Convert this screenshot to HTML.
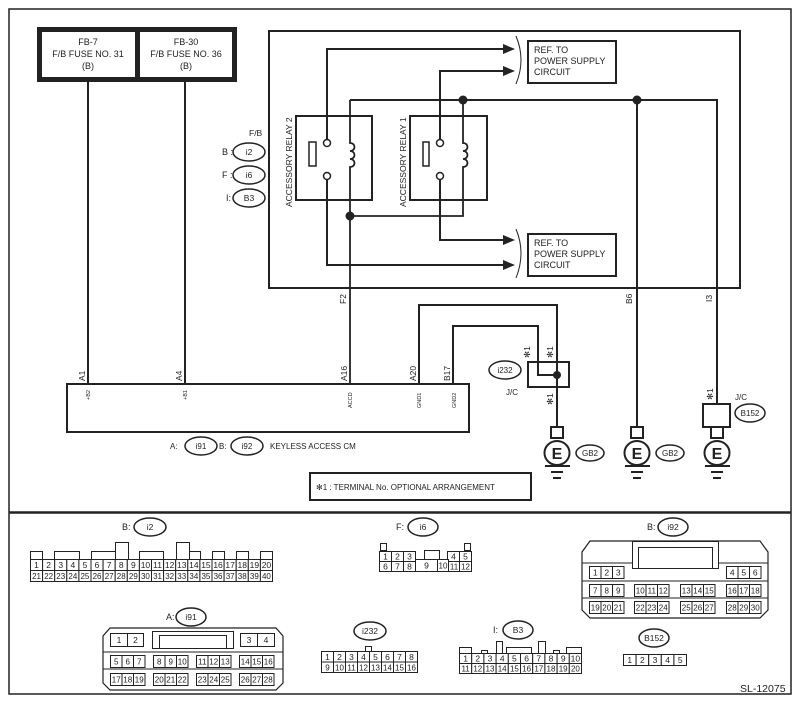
<!DOCTYPE html>
<html><head><meta charset="utf-8"><style>
html,body{margin:0;padding:0;background:#fff;}
svg{display:block;font-family:"Liberation Sans",sans-serif;}
</style></head><body>
<svg id="s" width="802" height="704" viewBox="0 0 802 704" xmlns="http://www.w3.org/2000/svg">
<rect x="0" y="0" width="802" height="704" fill="#fff"/>
<rect x="9" y="9" width="782" height="685" fill="none" stroke="#222" stroke-width="1.5"/>
<line x1="9" y1="512.5" x2="791" y2="512.5" stroke="#222" stroke-width="2.5"/>

<g fill="none" stroke="#222" stroke-width="2">
<rect x="39.5" y="29.5" width="195" height="50" stroke-width="5"/>
<line x1="137.5" y1="29" x2="137.5" y2="80" stroke-width="5"/>
<line x1="88" y1="82" x2="88" y2="384"/>
<line x1="185" y1="82" x2="185" y2="384"/>
<rect x="269" y="31" width="471" height="257"/>
<rect x="296" y="116" width="76" height="84"/>
<rect x="410" y="116" width="77" height="84"/>
<rect x="309" y="142" width="7" height="24" stroke-width="1.5"/>
<rect x="423" y="142" width="6" height="24" stroke-width="1.5"/>
<circle cx="327" cy="143" r="3.5" fill="#fff" stroke-width="1.5"/>
<circle cx="327" cy="176" r="3.5" fill="#fff" stroke-width="1.5"/>
<circle cx="440" cy="143" r="3.5" fill="#fff" stroke-width="1.5"/>
<circle cx="440" cy="176" r="3.5" fill="#fff" stroke-width="1.5"/>
<path d="M350 100 V143 c6 0 6 8 0 8 c6 0 6 8 0 8 c6 0 6 8 0 8 V384" stroke-width="1.8"/>
<path d="M463 100 V143 c6 0 6 8 0 8 c6 0 6 8 0 8 c6 0 6 8 0 8 V216 H350" stroke-width="1.8"/>
<path d="M327 139.5 V49 H505"/>
<path d="M440 139.5 V71 H505"/>
<path d="M327 179.5 V265 H505"/>
<path d="M440 179.5 V240 H505"/>
<path d="M350 100 H717 V404"/>
<line x1="637" y1="100" x2="637" y2="427"/>
<path d="M516 36 Q526 60 516 84" stroke-width="1"/>
<path d="M516 229 Q526 253 516 278" stroke-width="1"/>
<rect x="528" y="41" width="88" height="42"/>
<rect x="528" y="234" width="88" height="42"/>
<rect x="67" y="384" width="402" height="48"/>
<path d="M419 384 V305 H557 V427"/>
<path d="M453 384 V326 H538 V375 H557"/>
<rect x="528" y="362" width="41" height="25"/>
<rect x="703" y="404" width="27" height="23"/>
<rect x="551" y="427" width="12" height="11"/>
<rect x="631" y="427" width="12" height="11"/>
<rect x="711" y="427" width="12" height="11"/>
<rect x="310" y="473" width="221" height="27"/>
</g>
<g fill="#222">
<polygon points="503,44 515,49 503,54"/>
<polygon points="503,66 515,71 503,76"/>
<polygon points="503,235 515,240 503,245"/>
<polygon points="503,260 515,265 503,270"/>
<circle cx="463" cy="100" r="4.5"/><circle cx="637" cy="100" r="4.5"/>
<circle cx="350" cy="216" r="4.5"/><circle cx="557" cy="375" r="4"/>
</g>
<g id="gnds"></g>

<g font-size="9" fill="#222" text-anchor="middle">
<text x="88" y="45">FB-7</text><text x="88" y="57">F/B FUSE NO. 31</text><text x="88" y="69">(B)</text>
<text x="186" y="45">FB-30</text><text x="186" y="57">F/B FUSE NO. 36</text><text x="186" y="69">(B)</text>
</g>
<g font-size="9" fill="#222">
<text x="534" y="53">REF. TO</text><text x="534" y="64">POWER SUPPLY</text><text x="534" y="75">CIRCUIT</text>
<text x="534" y="246">REF. TO</text><text x="534" y="257">POWER SUPPLY</text><text x="534" y="268">CIRCUIT</text>
<text x="249" y="136" font-size="8.5">F/B</text>
<text x="222" y="155" font-size="9">B :</text><text x="222" y="178" font-size="9">F :</text><text x="226" y="201" font-size="9">I:</text>
<text transform="translate(292,207) rotate(-90)" font-size="8.5">ACCESSORY RELAY 2</text>
<text transform="translate(406,207) rotate(-90)" font-size="8.5">ACCESSORY RELAY 1</text>
<text transform="translate(346,304) rotate(-90)" font-size="8.5">F2</text>
<text transform="translate(632,304) rotate(-90)" font-size="8.5">B6</text>
<text transform="translate(712,302) rotate(-90)" font-size="8.5">I3</text>
<text transform="translate(85,381) rotate(-90)" font-size="8.5">A1</text>
<text transform="translate(182,381) rotate(-90)" font-size="8.5">A4</text>
<text transform="translate(347,381) rotate(-90)" font-size="8.5">A16</text>
<text transform="translate(416,381) rotate(-90)" font-size="8.5">A20</text>
<text transform="translate(450,381) rotate(-90)" font-size="8.5">B17</text>
<text transform="translate(90,400) rotate(-90)" font-size="5.5">+B2</text>
<text transform="translate(187,400) rotate(-90)" font-size="5.5">+B1</text>
<text transform="translate(352,408) rotate(-90)" font-size="5.5">ACCD</text>
<text transform="translate(421,408) rotate(-90)" font-size="5.5">GND1</text>
<text transform="translate(456,408) rotate(-90)" font-size="5.5">GND2</text>
<text transform="translate(530,358) rotate(-90)" font-size="8.5">✻1</text>
<text transform="translate(553,358) rotate(-90)" font-size="8.5">✻1</text>
<text transform="translate(553,405) rotate(-90)" font-size="8.5">✻1</text>
<text transform="translate(713,400) rotate(-90)" font-size="8.5">✻1</text>
<text x="506" y="395" font-size="8">J/C</text>
<text x="735" y="400" font-size="8">J/C</text>
<text x="170" y="449" font-size="8">A:</text><text x="219" y="449" font-size="8">B:</text>
<text x="270" y="449" font-size="8">KEYLESS ACCESS CM</text>
<text x="316" y="490" font-size="8">✻1  : TERMINAL No. OPTIONAL ARRANGEMENT</text>
<text x="740" y="692" font-size="10.5">SL-12075</text>
<text x="122" y="530" font-size="9">B:</text>
<text x="396" y="530" font-size="9">F:</text>
<text x="647" y="530" font-size="9">B:</text>
<text x="166" y="620" font-size="9">A:</text>
<text x="493" y="633" font-size="9">I:</text>
</g>
<g id="ovals" fill="none" stroke="#222" stroke-width="1.5"></g>
<g id="conns"></g>
<script>
var NS="http://www.w3.org/2000/svg";
function el(p,t,a,txt){var e=document.createElementNS(NS,t);for(var k in a)e.setAttribute(k,a[k]);if(txt!==undefined)e.textContent=txt;p.appendChild(e);return e;}
var S=document.getElementById('s');
var ov=document.getElementById('ovals');
function oval(cx,cy,rx,ry,t,fs){el(ov,'ellipse',{cx:cx,cy:cy,rx:rx,ry:ry,fill:'#fff'});el(S,'text',{x:cx,y:cy+3,'font-size':fs||8.5,'text-anchor':'middle',fill:'#222'},t);}
oval(249,152,16,9,'i2');oval(249,175,16,9,'i6');oval(249,198,16,9,'B3');
oval(505,370,16,9,'i232',8);oval(750,413,15,9,'B152',8);
oval(590,453,14,8,'GB2',8);oval(670,453,14,8,'GB2',8);
oval(201,446,16,9,'i91',8);oval(247,446,16,9,'i92',8);
oval(150,527,16,9,'i2');oval(423,527,15,9,'i6');oval(673,527,15,9,'i92');
oval(191,617,15,9,'i91');oval(370,631,16,9,'i232');oval(518,630,15,9,'B3');oval(654,638,15,9,'B152');
var g=document.getElementById('gnds');
[557,637,717].forEach(function(x){
 el(g,'ellipse',{cx:x,cy:453,rx:12.5,ry:12,fill:'#fff',stroke:'#222','stroke-width':2});
 el(g,'text',{x:x,y:459,'font-size':16,'font-weight':'bold','text-anchor':'middle',fill:'#222'},'E');
 el(g,'line',{x1:x-12,y1:466,x2:x+13,y2:466,stroke:'#222','stroke-width':2});
 el(g,'line',{x1:x-6,y1:472,x2:x+6,y2:472,stroke:'#222','stroke-width':2});
 el(g,'line',{x1:x-4,y1:478,x2:x+4,y2:478,stroke:'#222','stroke-width':2});
});
var C=document.getElementById('conns');
function cell(x,y,w,h,t,fs){el(C,'rect',{x:x+.5,y:y+.5,width:w,height:h,fill:'#fff',stroke:'#222','stroke-width':1});if(t!==undefined&&t!=='')el(C,'text',{x:x+w/2+.5,y:y+h/2+3.5,'font-size':fs||8.5,'text-anchor':'middle',fill:'#222'},t);}
function row(x0,y,w,h,a,b,fs){for(var i=a;i<=b;i++)cell(x0+(i-a)*w,y,w,h,String(i),fs);}
[[30,42,551],[54,79,551],[91,115,551],[115,128,542],[139,163,551],[176,189,542],[189,200,551],[212,224,551],[236,248,551],[260,272,551]].forEach(function(b){cell(b[0],b[2],b[1]-b[0],559-b[2]);});
row(30,559,12.1,11,1,20,8.5);row(30,570,12.1,11,21,40,8);
cell(380,543,6,7);cell(464,543,6,7);cell(424,550,15,9);
row(379,551,12,10,1,3);row(447,551,12,10,4,5);
row(379,561,12,10,6,8);cell(415,559,22,12,'9');cell(437,559,11,12,'10',8);cell(448,561,11,10,'11',8);cell(459,561,12,10,'12',8);
el(C,'path',{d:'M110 628 H276 L283 636 V683 L276 690 H110 L103 683 V636 Z',fill:'#fff',stroke:'#222','stroke-width':1.2});
el(C,'line',{x1:103,y1:652,x2:283,y2:652,stroke:'#222'});el(C,'line',{x1:103,y1:669,x2:283,y2:669,stroke:'#222'});
cell(110,633,17,13,'1');cell(127,633,16,13,'2');cell(240,633,17,13,'3');cell(257,633,17,13,'4');
cell(152,631,81,17);cell(159,635,67,13);
[[110,5],[153,8],[196,11],[239,14]].forEach(function(r){row(r[0],655,11.5,12,r[1],r[1]+2,8);row(r[0],673,11.5,12,r[1]+12,r[1]+14,8);});
el(C,'path',{d:'M590 541 H760 L768 552 V610 L760 618 H590 L582 610 V552 Z',fill:'#fff',stroke:'#222','stroke-width':1.2});
el(C,'line',{x1:582,y1:563,x2:768,y2:563,stroke:'#222'});el(C,'line',{x1:582,y1:581,x2:768,y2:581,stroke:'#222'});el(C,'line',{x1:582,y1:598,x2:768,y2:598,stroke:'#222'});
cell(632,541,86,27);cell(638,547,74,21);
row(589,566,11.5,12,1,3);row(726,566,11.5,12,4,6);
[[589,7],[634,10],[680,13],[726,16]].forEach(function(r){row(r[0],584,11.5,12,r[1],r[1]+2,8);row(r[0],601,11.5,12,r[1]+12,r[1]+14,8);});
cell(365,646,6,5);row(321,651,12,10.5,1,8);row(321,661.5,12,10.5,9,16,8);
[[459,471,647],[481,487,650],[496,502,641],[506,531,647],[538,545,641],[553,559,650],[566,581,647]].forEach(function(b){cell(b[0],b[2],b[1]-b[0],653-b[2]);});
row(459,653,12.2,10,1,10);row(459,663,12.2,10,11,20,8);
row(623,654,12.6,11,1,5);
</script>
</svg>
</body></html>
